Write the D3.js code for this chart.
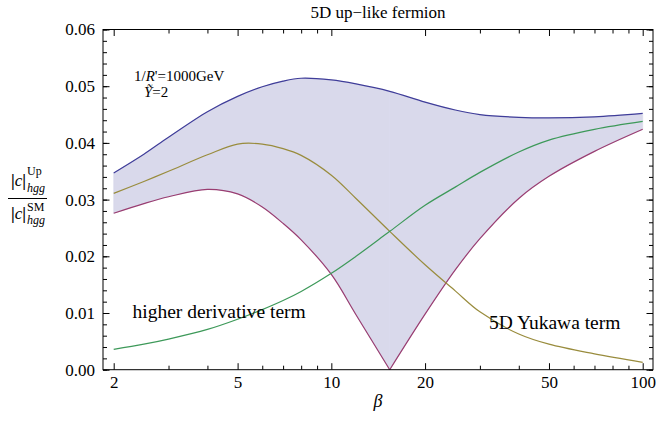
<!DOCTYPE html>
<html>
<head>
<meta charset="utf-8">
<script src="https://cdn.jsdelivr.net/npm/d3@7"></script>
<style>
  body { margin: 0; background: #fff; }
  svg text { font-family: "Liberation Serif", "DejaVu Serif", serif; }
  .axis line { stroke: #000; }
</style>
</head>
<body>
<svg id="chart" width="656" height="431"></svg>
<script>
// beta grid (log axis) and the four curves
var betas          = [2, 2.5, 3, 4, 5, 6, 7, 8, 10, 12, 15.4, 20, 25, 30, 40, 50, 70, 100];
var upperBound     = [0.0347, 0.0380, 0.0410, 0.0455, 0.0482, 0.0499, 0.0509, 0.0514, 0.0511, 0.0504, 0.0491, 0.0472, 0.0458, 0.0450, 0.0445, 0.0444, 0.0446, 0.0452];
var lowerBound     = [0.0276, 0.0293, 0.0305, 0.0318, 0.0310, 0.0287, 0.0258, 0.0229, 0.0168, 0.0097, 0.0, 0.0098, 0.0176, 0.0231, 0.0302, 0.0341, 0.0385, 0.0424];
var yukawaTerm     = [0.0311, 0.0332, 0.0350, 0.0379, 0.0398, 0.0398, 0.0390, 0.0378, 0.0343, 0.0302, 0.0244, 0.0185, 0.0139, 0.0102, 0.0063, 0.0045, 0.0028, 0.0013];
var derivativeTerm = [0.0036, 0.0045, 0.0054, 0.0071, 0.0089, 0.0106, 0.0122, 0.0138, 0.0170, 0.0200, 0.0244, 0.0290, 0.0322, 0.0348, 0.0384, 0.0405, 0.0424, 0.0438];

var xTicksMajor = [2, 5, 10, 20, 50, 100];
var xTicksMinor = [3, 4, 6, 7, 8, 9, 30, 40, 60, 70, 80, 90];
var yTicksMajor = [0, 0.01, 0.02, 0.03, 0.04, 0.05, 0.06];

var colors = {
    upper: "rgb(63,61,153)",
    lower: "rgb(153,61,113)",
    yukawa: "rgb(153,140,61)",
    deriv: "rgb(61,153,89)",
    fill: "rgb(217,217,235)"
};

var svg = d3.select("#chart");

// frame box
var frame = {left: 103, right: 653, top: 29.5, bottom: 369.7};

var xScale = d3.scaleLog().domain([2, 100]).range([113.7, 642.7]);
var yScale = d3.scaleLinear().domain([0, 0.06]).range([frame.bottom, frame.top]);

var rows = betas.map(function(b, i) {
    return {b: b, up: upperBound[i], lo: lowerBound[i], yu: yukawaTerm[i], de: derivativeTerm[i]};
});

// split where the lower bound touches zero, so the V stays sharp
var kink = lowerBound.indexOf(d3.min(lowerBound));
var leftRows = rows.slice(0, kink + 1),
    rightRows = rows.slice(kink);

var curve = d3.curveCatmullRom.alpha(0.5);

var area = d3.area()
    .x(function(d) { return xScale(d.b); })
    .y0(function(d) { return yScale(d.lo); })
    .y1(function(d) { return yScale(d.up); })
    .curve(curve);

[leftRows, rightRows].forEach(function(part) {
    svg.append("path")
        .datum(part)
        .attr("d", area)
        .attr("fill", colors.fill)
        .attr("stroke", colors.fill)
        .attr("stroke-width", 0.6);
});

function lineFor(key) {
    return d3.line()
        .x(function(d) { return xScale(d.b); })
        .y(function(d) { return yScale(d[key]); })
        .curve(curve);
}

function drawLine(data, key, color) {
    svg.append("path")
        .datum(data)
        .attr("d", lineFor(key))
        .attr("fill", "none")
        .attr("stroke", color)
        .attr("stroke-width", 1.2);
}

drawLine(rows, "up", colors.upper);
drawLine(leftRows, "lo", colors.lower);
drawLine(rightRows, "lo", colors.lower);
drawLine(rows, "yu", colors.yukawa);
drawLine(rows, "de", colors.deriv);

// axes, ticks pointing inward
var major = 6.5, minor = 4;
var yMinor = d3.range(0, 0.0601, 0.002);

function addAxis(axis, tx, ty) {
    var g = svg.append("g").attr("class", "axis")
        .attr("transform", "translate(" + tx + "," + ty + ")")
        .call(axis);
    g.select(".domain").remove();
    g.selectAll("text")
        .style("font-family", "Liberation Serif")
        .style("font-size", "17px")
        .attr("fill", "#000");
    return g;
}

addAxis(d3.axisBottom(xScale).tickValues(xTicksMajor).tickSize(-major).tickPadding(6.2).tickFormat(d3.format("d")), 0, frame.bottom);
addAxis(d3.axisBottom(xScale).tickValues(xTicksMinor).tickSize(-minor).tickFormat(""), 0, frame.bottom);
addAxis(d3.axisTop(xScale).tickValues(xTicksMajor).tickSize(-major).tickFormat(""), 0, frame.top);
addAxis(d3.axisTop(xScale).tickValues(xTicksMinor).tickSize(-minor).tickFormat(""), 0, frame.top);

addAxis(d3.axisLeft(yScale).tickValues(yTicksMajor).tickSize(-major).tickPadding(8).tickFormat(d3.format(".2f")), frame.left, 0);
addAxis(d3.axisLeft(yScale).tickValues(yMinor).tickSize(-minor).tickFormat(""), frame.left, 0);
addAxis(d3.axisRight(yScale).tickValues(yTicksMajor).tickSize(-major).tickFormat(""), frame.right, 0);
addAxis(d3.axisRight(yScale).tickValues(yMinor).tickSize(-minor).tickFormat(""), frame.right, 0);

svg.append("rect")
    .attr("x", frame.left)
    .attr("y", frame.top)
    .attr("width", frame.right - frame.left)
    .attr("height", frame.bottom - frame.top)
    .attr("fill", "none")
    .attr("stroke", "#000")
    .attr("stroke-width", 1);

// title
svg.append("text")
    .attr("x", (frame.left + frame.right) / 2)
    .attr("y", 18)
    .attr("text-anchor", "middle")
    .style("font-size", "17px")
    .text("5D up\u2212like fermion");

// x label
svg.append("text")
    .attr("x", 378)
    .attr("y", 407)
    .attr("text-anchor", "middle")
    .style("font-size", "18px")
    .style("font-style", "italic")
    .text("\u03b2");

// y label as a fraction
function absC(y, sup, subY, supY) {
    var t = svg.append("text").attr("x", 11).attr("y", y).style("font-size", "17px");
    t.append("tspan").style("font-weight", "bold").text("|");
    t.append("tspan").style("font-style", "italic").text("c");
    t.append("tspan").style("font-weight", "bold").text("|");
    svg.append("text").attr("x", 27).attr("y", supY).style("font-size", "12px").text(sup);
    svg.append("text").attr("x", 27).attr("y", subY).style("font-size", "12px").style("font-style", "italic").text("hgg");
}
absC(186, "Up", 191.5, 175);
svg.append("line")
    .attr("x1", 8).attr("x2", 47)
    .attr("y1", 198.5).attr("y2", 198.5)
    .attr("stroke", "#000").attr("stroke-width", 1);
absC(219, "SM", 224, 211);

// annotations
var note = svg.append("text").attr("x", 134).attr("y", 81).style("font-size", "15px");
note.append("tspan").text("1/");
note.append("tspan").style("font-style", "italic").text("R");
note.append("tspan").text("'=1000GeV");

var note2 = svg.append("text").attr("x", 144).attr("y", 97).style("font-size", "15px");
note2.append("tspan").style("font-style", "italic").text("\u1ef8");
note2.append("tspan").text("=2");

svg.append("text")
    .attr("x", 132.5).attr("y", 317.5)
    .style("font-size", "19.5px")
    .text("higher derivative term");

svg.append("text")
    .attr("x", 489).attr("y", 329)
    .style("font-size", "19.5px")
    .text("5D Yukawa term");
</script>
</body>
</html>
